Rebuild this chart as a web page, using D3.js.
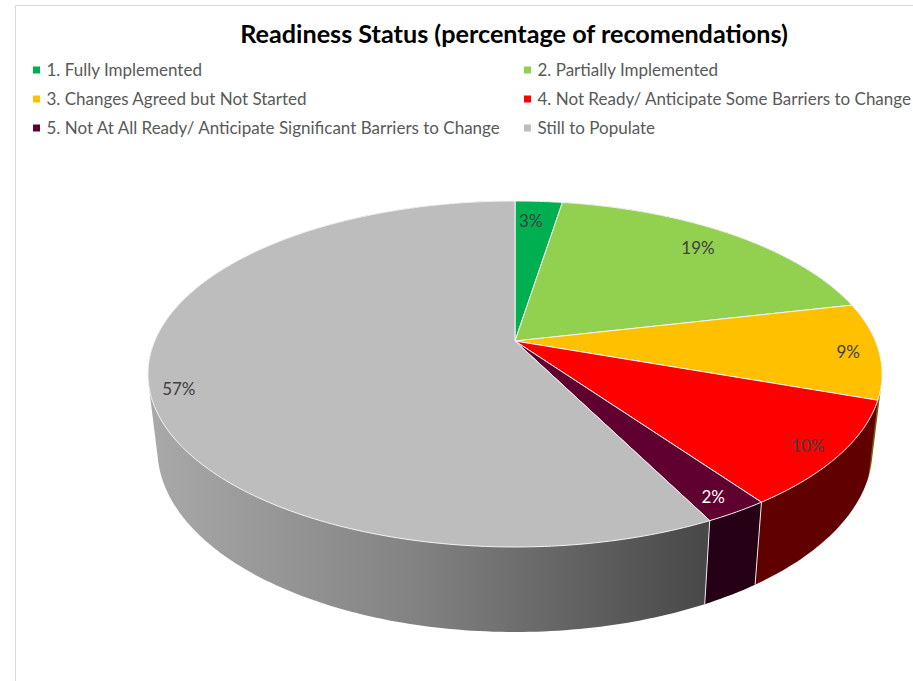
<!DOCTYPE html>
<html><head><meta charset="utf-8">
<script src="https://cdn.jsdelivr.net/npm/d3@7"></script>
<style>html,body{margin:0;padding:0;background:#fff;overflow:hidden}svg{display:block}text{font-family:Lato,"Open Sans",sans-serif}</style>
</head><body><svg id="c" width="913" height="681"></svg>
<script>
const chartTitle = "Readiness Status (percentage of recomendations)";
const categories = ["1. Fully Implemented","2. Partially Implemented","3. Changes Agreed but Not Started","4. Not Ready/ Anticipate Some Barriers to Change","5. Not At All Ready/ Anticipate Significant Barriers to Change","Still to Populate"];
const values = [2.5,18.9,9.0,9.8,2.4,57.4];
const topColors = ["#00b050","#92d050","#ffc000","#ff0000","#600030","#bdbdbd"];
const wallColors = ["#005828","#496828","#7f6000","#600000","#260014","url(#wallGrey)"];
const labelColors = ["#404040","#404040","#404040","#404040","#ffffff","#404040"];
const labelRadius = [0.836,0.85,0.916,0.916,0.921,0.925];
const labelNudge = [-1,-1,0.5,0.5,0.5,-3.5];

const svg = d3.select("#c");
const k = 0.1907, cx = 515;
// perspective projection of a unit circle
const project = (t,r,ox,A,B) => { const X=r*Math.sin(t),Y=-r*Math.cos(t),w=1-k*Y; return [cx+A*X/w, ox+B*Y/w]; };
const topP = (t,r=1)=>project(t,r,341,360.3,166.7);
const botP = (t,r=1)=>project(t,r,414.5,351,176);

const defs = svg.append("defs");
const grad = defs.append("linearGradient").attr("id","wallGrey").attr("gradientUnits","userSpaceOnUse").attr("x1",150).attr("x2",706).attr("y1",0).attr("y2",0);
[[0,"#a9a9a9"],[0.5,"#808080"],[1,"#484848"]].forEach(s=>grad.append("stop").attr("offset",s[0]).attr("stop-color",s[1]));

// frame
svg.append("path").attr("d","M15.5,681V5.5H913").attr("fill","none").attr("stroke","#d9d9d9").attr("stroke-width",1);

const arcs = d3.pie().sort(null).value(d=>d)(values);
const line = d3.line();
const sample = (a,f)=>{const n=Math.max(4,Math.ceil((a.endAngle-a.startAngle)*60));return d3.range(n+1).map(i=>f(a.startAngle+(a.endAngle-a.startAngle)*i/n));};

// walls: the hull of the top and bottom arcs; the top face hides the inner part
svg.append("g").selectAll("path").data(arcs).join("path")
 .attr("d",a=>line(d3.polygonHull([...sample(a,t=>topP(t)),...sample(a,t=>botP(t))]))+"Z")
 .attr("fill",(a,i)=>wallColors[i]);
// seams on the front of the wall
svg.append("g").selectAll("line").data(arcs.filter((a,i)=>i==3||i==4)).join("line")
 .attr("x1",a=>topP(a.endAngle)[0]).attr("y1",a=>topP(a.endAngle)[1])
 .attr("x2",a=>botP(a.endAngle)[0]).attr("y2",a=>botP(a.endAngle)[1])
 .attr("stroke","#e8e8e8").attr("stroke-width",1);
// top face
svg.append("g").selectAll("path").data(arcs).join("path")
 .attr("d",a=>line([topP(0,0),...sample(a,t=>topP(t))])+"Z")
 .attr("fill",(a,i)=>topColors[i]).attr("stroke","#f4f4f4").attr("stroke-width",1).attr("stroke-linejoin","round");
// data labels
svg.append("g").selectAll("text").data(arcs).join("text")
 .attr("x",(a,i)=>topP((a.startAngle+a.endAngle)/2+labelNudge[i]*Math.PI/180,labelRadius[i])[0])
 .attr("y",(a,i)=>topP((a.startAngle+a.endAngle)/2+labelNudge[i]*Math.PI/180,labelRadius[i])[1])
 .attr("text-anchor","middle").attr("dominant-baseline","central")
 .attr("font-size",17).attr("fill",(a,i)=>labelColors[i])
 .text(a=>Math.round(a.value)+"%");
// title
svg.append("text").attr("x",514).attr("y",43).attr("text-anchor","middle").attr("font-size",25.2).attr("font-weight",700).attr("fill","#000").text(chartTitle);
// legend
const colX = d3.scaleOrdinal().domain([0,1]).range([33,524]);
const rowY = d3.scalePoint().domain([0,1,2]).range([70,128]);
const leg = svg.append("g").selectAll("g").data(categories).join("g")
 .attr("transform",(d,i)=>`translate(${colX(i%2)},${rowY(Math.floor(i/2))})`);
leg.append("rect").attr("x",0).attr("y",-3.5).attr("width",7).attr("height",7).attr("fill",(d,i)=>topColors[i]);
leg.append("text").attr("x",13.5).attr("y",-0.5).attr("dominant-baseline","central").attr("font-size",17).attr("fill","#595959").text(d=>d);
</script></body></html>
